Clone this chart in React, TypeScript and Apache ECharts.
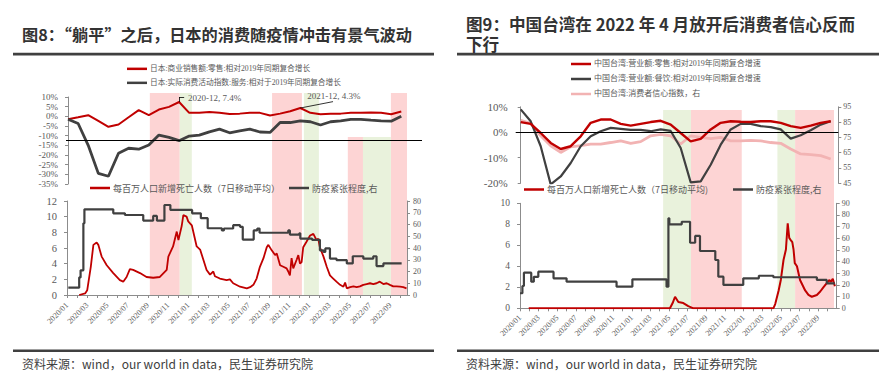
import React, { useEffect, useRef } from 'react';
import * as echarts from 'echarts';

// ---------- tick labels ----------
const xTickLabels = [
  '2020/01', '2020/03', '2020/05', '2020/07', '2020/09', '2020/11',
  '2021/01', '2021/03', '2021/05', '2021/07', '2021/09', '2021/11',
  '2022/01', '2022/03', '2022/05', '2022/07', '2022/09',
];
const twConfTicks = [45, 55, 65, 75, 85, 95];

// ---------- Japan monthly (2020-01 .. 2022-10) ----------
const jpRetail = [
  -1.5, -0.5, 0.6, -2.4, -5.4, -4.2, -0.5, 3.2, 0.6, 3.5, 4.9, 7.4,
  1.8, 1.8, 2.2, 1.9, 1.2, 1.4, 1.8, 1.8, 0.4, 1.4, 2.6, 4.3,
  1.8, 1.1, 1.4, 1.4, 1.8, 1.8, 2.0, 1.8, 1.1, 2.5,
];
const jpService = [
  -1.5, -3.7, -15, -29.5, -31, -19.1, -16.5, -17, -14.8, -9.7, -10.9, -12.6,
  -10.2, -9.7, -8, -6.6, -8.5, -7.5, -6.6, -8.1, -8.3, -3.2, -3.2, -2.3,
  -2.8, -4.5, -2.8, -2.3, -1.6, -1.6, -2.0, -2.3, -2.5, 0.1,
];
const jpRefLine = -12.2;
const jpNotes: [number, number, string][] = [
  [11, 7.4, '2020-12, 7.4%'],
  [23, 4.3, '2021-12, 4.3%'],
];

// ---------- Japan daily ----------
const jpDeaths: [string, number][] = [
  ['2020-02-07', 0], ['2020-02-24', 0.2], ['2020-03-01', 0.6], ['2020-03-12', 3.6], ['2020-03-20', 6.4],
  ['2020-03-30', 6.7], ['2020-04-04', 6.4], ['2020-04-14', 4.9], ['2020-04-29', 3.8], ['2020-05-19', 2.8],
  ['2020-06-08', 1.9], ['2020-06-18', 1.7], ['2020-06-28', 2.3], ['2020-07-08', 3.3], ['2020-07-18', 3.2],
  ['2020-08-08', 2.8], ['2020-08-28', 2.3], ['2020-09-17', 2.2], ['2020-10-07', 2.3], ['2020-10-28', 3.2],
  ['2020-11-02', 4.9], ['2020-11-16', 6.2], ['2020-11-27', 8.1], ['2020-12-02', 7.0], ['2020-12-12', 8.8],
  ['2020-12-17', 10.2], ['2020-12-27', 10.0], ['2021-01-01', 9.4], ['2021-01-12', 8.9], ['2021-01-27', 6.2],
  ['2021-02-06', 5.8], ['2021-02-15', 4.5], ['2021-02-24', 3.2], ['2021-03-06', 2.6], ['2021-03-16', 3.0],
  ['2021-03-21', 2.4], ['2021-04-05', 2.1], ['2021-04-25', 1.9], ['2021-05-05', 2.0], ['2021-05-15', 1.5],
  ['2021-06-05', 1.06], ['2021-06-25', 0.85], ['2021-07-05', 1.0], ['2021-07-15', 1.3], ['2021-07-25', 2.1],
  ['2021-08-04', 3.6], ['2021-08-15', 4.7], ['2021-08-25', 6.1], ['2021-08-30', 6.4], ['2021-09-09', 5.7],
  ['2021-09-19', 5.1], ['2021-09-24', 5.3], ['2021-10-04', 3.8], ['2021-10-14', 3.6], ['2021-10-24', 3.4],
  ['2021-10-29', 3.0], ['2021-11-03', 2.5], ['2021-11-08', 4.7], ['2021-11-13', 3.4], ['2021-11-23', 4.5],
  ['2021-11-28', 5.1], ['2021-12-03', 4.0], ['2021-12-08', 4.2], ['2021-12-13', 6.1], ['2021-12-23', 6.8],
  ['2022-01-03', 7.6], ['2022-01-13', 7.8], ['2022-01-23', 7.0], ['2022-01-28', 7.2], ['2022-02-02', 6.1],
  ['2022-02-12', 4.9], ['2022-02-21', 3.6], ['2022-03-02', 2.5], ['2022-03-12', 2.1], ['2022-03-22', 1.7],
  ['2022-04-02', 1.3], ['2022-04-12', 1.06], ['2022-04-17', 1.6], ['2022-04-22', 0.85], ['2022-05-02', 1.0],
  ['2022-05-12', 1.1], ['2022-05-22', 1.0], ['2022-06-01', 1.1], ['2022-06-11', 1.3], ['2022-06-21', 1.4],
  ['2022-07-01', 1.5], ['2022-07-11', 1.4], ['2022-07-21', 1.5], ['2022-07-31', 1.7], ['2022-08-11', 1.4],
  ['2022-08-21', 1.5], ['2022-08-31', 1.3], ['2022-09-10', 1.1], ['2022-09-20', 1.1], ['2022-09-30', 1.06],
  ['2022-10-10', 1.0], ['2022-10-20', 0.85],
];
const jpStringency: [string, number][] = [
  ['2020-01-05', 6.2], ['2020-02-07', 15], ['2020-02-11', 21], ['2020-02-19', 61], ['2020-02-22', 72.9],
  ['2020-05-19', 69.5], ['2020-06-23', 68.1], ['2020-08-18', 63.3], ['2020-09-17', 67.3], ['2020-09-28', 63.3],
  ['2020-10-21', 76.6], ['2020-11-08', 72.4], ['2021-01-13', 69.5], ['2021-02-08', 65.4], ['2021-02-27', 56.8],
  ['2021-04-11', 55], ['2021-04-17', 56.6], ['2021-05-15', 59.4], ['2021-06-05', 58], ['2021-06-13', 47.2],
  ['2021-07-16', 55], ['2021-07-27', 56.6], ['2021-08-03', 53], ['2021-10-29', 55], ['2021-11-03', 51.4],
  ['2021-12-01', 52.5], ['2021-12-04', 48], ['2022-01-09', 47], ['2022-02-02', 38], ['2022-02-12', 36.7],
  ['2022-02-17', 39.6], ['2022-03-02', 31], ['2022-03-22', 29.7], ['2022-04-22', 26.9], ['2022-05-10', 33],
  ['2022-06-11', 31], ['2022-07-11', 33], ['2022-07-21', 24.6], ['2022-08-11', 26.9], ['2022-10-05', 26.9],
];
// bands: start, end, kind (0 = pink, 1 = green)
const jpBands: [string, string, number][] = [
  ['2020-09-07', '2020-12-06', 0], ['2020-12-06', '2021-01-12', 1],
  ['2021-09-10', '2021-12-09', 0], ['2021-12-15', '2022-01-30', 1],
  ['2022-09-03', '2022-10-24', 0],
];
const jpLowBands: [string, string, number][] = [
  ['2022-04-25', '2022-06-10', 0], ['2022-06-10', '2022-09-03', 1],
];

// ---------- Taiwan monthly (2020-01 .. 2022-08) ----------
const twRetail = [
  4.0, 3.3, -0.3, -4.2, -6.6, -5.5, -1.6, 3.7, 5.0, 5.0, 3.3, 2.6,
  3.3, 4.0, 4.5, 3.0, -0.3, -3.6, -2.6, 1.1, 3.7, 4.3, 4.1, 4.0,
  4.3, 4.3, 3.7, 2.4, 1.7, 2.6, 3.7, 4.3,
];
const twFood = [
  9.0, 4.3, -5.5, -20.5, -17.4, -12.1, -5.5, -1.6, 0.4, 1.7, 1.3, 0.9,
  0.9, 0.4, 1.1, 0.5, -6.2, -19.7, -19.3, -12.8, -4.9, 1.1, 3.3, 3.3,
  2.4, 2.0, 1.1, -2.5, -1.2, 0.8, 3.0, 4.3,
];
const twConfidence = [
  86.2, 84.2, 76, 69.5, 65.1, 68.8, 69.5, 70.6, 70.6, 71.6, 72.7, 71.1,
  72.2, 76, 77, 76, 70.6, 76, 74.9, 74.2, 75, 72.7, 72.7, 73,
  72.7, 71.6, 71.1, 67.3, 64.1, 63.7, 63, 60.8,
];

// ---------- Taiwan daily ----------
const twDeaths: [string, number][] = [
  ['2020-01-30', 0], ['2021-05-04', 0], ['2021-05-13', 0.5], ['2021-05-21', 1.1], ['2021-06-01', 0.6],
  ['2021-06-17', 0.5], ['2021-07-03', 0.2], ['2021-07-20', 0], ['2022-04-07', 0], ['2022-04-13', 0.4],
  ['2022-04-24', 1.7], ['2022-05-01', 2.7], ['2022-05-10', 4.6], ['2022-05-18', 5.6], ['2022-05-24', 8.1],
  ['2022-05-29', 6.7], ['2022-06-03', 6.5], ['2022-06-08', 6.3], ['2022-06-12', 5.6], ['2022-06-16', 4.3],
  ['2022-06-23', 4.0], ['2022-07-03', 2.7], ['2022-07-20', 1.7], ['2022-07-31', 1.27], ['2022-08-11', 1.1],
  ['2022-08-28', 1.27], ['2022-09-08', 1.6], ['2022-09-18', 2.0], ['2022-09-29', 2.4], ['2022-10-08', 2.7],
  ['2022-10-12', 2.5], ['2022-10-19', 2.8], ['2022-10-26', 2.1],
];
const twStringency: [string, number][] = [
  ['2020-01-01', 12.9], ['2020-01-09', 19.1], ['2020-01-14', 30.5], ['2020-02-07', 22.8], ['2020-02-15', 27],
  ['2020-02-29', 31.4], ['2020-04-19', 25.7], ['2020-06-01', 22.8], ['2020-11-12', 18.5], ['2021-01-03', 24.8],
  ['2021-04-23', 18.5], ['2021-04-29', 77.1], ['2021-05-02', 72], ['2021-06-12', 74.2], ['2021-07-09', 56.2],
  ['2021-07-26', 62], ['2021-08-11', 49.1], ['2021-09-30', 41.4], ['2021-10-10', 27.1], ['2021-10-27', 20],
  ['2021-12-31', 25.7], ['2022-02-19', 27.9], ['2022-04-07', 26.6], ['2022-08-28', 24.3], ['2022-09-29', 21.4],
  ['2022-10-26', 21.4],
];
const twBands: [string, string, number][] = [
  ['2021-04-12', '2021-07-12', 1], ['2021-07-12', '2021-12-26', 0],
  ['2022-04-20', '2022-06-17', 1], ['2022-06-17', '2022-10-23', 0],
];

const legendText: Record<string, string> = {
  jpRetail: '日本:商业销售额:零售:相对2019年同期复合增长',
  jpService: '日本:实际消费活动指数:服务:相对于2019年同期复合增长',
  jpDeaths: '每百万人口新增死亡人数（7日移动平均）',
  jpStringency: '防疫紧张程度,右',
  twRetail: '中国台湾:营业额:零售:相对2019年同期复合增速',
  twFood: '中国台湾:营业额:餐饮:相对2019年同期复合增速',
  twConfidence: '中国台湾:消费者信心指数，右',
  twDeaths: '每百万人口新增死亡人数（7日移动平均)',
  twStringency: '防疫紧张程度,右',
};

// ---------- styling ----------
const RED = '#c00000';
const DARK = '#404040';
const PINK_LINE = '#f2b3b3';
const BAND_PINK = '#fdd4d4';
const BAND_GREEN = '#e9f2dc';
const AXIS = '#8c8c8c';
const LABEL = '#595959';
const SERIF = '"Liberation Serif", "Times New Roman", serif';
const SANS = '"Noto Sans CJK SC", "Noto Sans", sans-serif';
const MIX = '"Liberation Serif", "Noto Sans CJK SC", serif';

function toM(s: string): number {
  const [y, m, d] = s.split('-').map(Number);
  const dim = new Date(y, m, 0).getDate();
  return (y - 2020) * 12 + (m - 1) + (d - 1) / dim;
}

const fmtMonth = (v: number) => {
  const r = Math.round(v);
  if (Math.abs(v - r) > 1e-6 || r % 2 !== 0) return '';
  return xTickLabels[r / 2] ?? '';
};

function yAx(gridIndex: number, o: any) {
  return {
    type: 'value',
    gridIndex,
    min: o.min,
    max: o.max,
    interval: o.interval,
    position: o.position || 'left',
    splitLine: { show: false },
    axisLine: { show: true, lineStyle: { color: AXIS, width: 1 } },
    axisTick: { show: true, length: 3, lineStyle: { color: AXIS }, customValues: o.customValues },
    axisLabel: {
      color: LABEL,
      fontFamily: SERIF,
      fontSize: o.fontSize || 10,
      lineHeight: o.lineHeight,
      margin: o.margin ?? 8,
      formatter: o.formatter,
      customValues: o.customValues,
      showMinLabel: true,
      showMaxLabel: true,
      hideOverlap: false,
    },
  };
}

function hiddenAx(gridIndex: number, min: number, max: number) {
  return { type: 'value', gridIndex, min, max, show: false, splitLine: { show: false } };
}

function dateAx(gridIndex: number, max: number, margin: number) {
  return {
    type: 'value',
    gridIndex,
    min: 0,
    max,
    interval: 1,
    splitLine: { show: false },
    axisLine: { show: true, onZero: false, lineStyle: { color: AXIS } },
    axisTick: { show: true, length: 3, inside: false, lineStyle: { color: AXIS } },
    axisLabel: {
      rotate: 45,
      fontSize: 8,
      fontFamily: SERIF,
      color: LABEL,
      margin,
      showMaxLabel: false,
      formatter: fmtMonth,
    },
  };
}

function bandSeries(bands: [string, string, number][], xi: number, yi: number) {
  return {
    type: 'custom',
    xAxisIndex: xi,
    yAxisIndex: yi,
    silent: true,
    z: 0,
    encode: { x: [0, 1] },
    data: bands.map(([a, b, k]) => [toM(a), toM(b), k]),
    renderItem: (params: any, api: any) => {
      const cs = params.coordSys;
      let x0 = api.coord([api.value(0), 0])[0];
      let x1 = api.coord([api.value(1), 0])[0];
      x0 = Math.max(x0, cs.x);
      x1 = Math.min(x1, cs.x + cs.width);
      return {
        type: 'rect',
        shape: { x: x0, y: cs.y, width: Math.max(0, x1 - x0), height: cs.height },
        style: { fill: api.value(2) === 0 ? BAND_PINK : BAND_GREEN },
      };
    },
  };
}

function lineS(name: string, data: any[], xi: number, yi: number, color: string, width: number, extra: any = {}) {
  return {
    type: 'line',
    name,
    xAxisIndex: xi,
    yAxisIndex: yi,
    data,
    showSymbol: false,
    symbol: 'none',
    z: 3,
    lineStyle: { color, width },
    itemStyle: { color },
    ...extra,
  };
}

function legendItem(name: string, left: number, top: number, fontSize: number, fontFamily: string) {
  return {
    data: [name],
    left,
    top,
    orient: 'horizontal',
    icon: 'rect',
    itemWidth: 20,
    itemHeight: 2.5,
    itemGap: 0,
    padding: 0,
    selectedMode: false,
    formatter: (n: string) => legendText[n],
    textStyle: { fontSize, fontFamily, color: LABEL, padding: [0, 0, 0, -2] },
  };
}

function textG(x: number, y: number, text: string, font: string, fill: string, lineHeight?: number) {
  return {
    type: 'text',
    x,
    y,
    silent: true,
    style: {
      text, font, fill, lineHeight,
      textAlign: 'left', textVerticalAlign: 'middle', align: 'left', verticalAlign: 'middle',
    },
  };
}

function rectG(x: number, y: number, w: number, h: number) {
  return { type: 'rect', silent: true, shape: { x, y, width: w, height: h }, style: { fill: DARK } };
}

function buildOption(): any {
  const monthly = (arr: number[]) => arr.map((v, i) => [i, v]);
  const daily = (arr: [string, number][]) => arr.map(([d, v]) => [toM(d), v]);

  return {
    animation: false,
    backgroundColor: '#ffffff',
    grid: [
      { left: 66, top: 97, width: 356, height: 87 }, // 0 JP top
      { left: 67, top: 201, width: 340, height: 94 }, // 1 JP bottom
      { left: 67, top: 93, width: 340, height: 202 }, // 2 JP bands
      { left: 67, top: 137, width: 340, height: 158 }, // 3 JP low bands
      { left: 515.7, top: 106.8, width: 322.6, height: 76.3 }, // 4 TW top
      { left: 520, top: 203.3, width: 316.7, height: 105 }, // 5 TW bottom
      { left: 520, top: 110, width: 316.7, height: 198.3 }, // 6 TW bands
    ],
    xAxis: [
      hiddenAx(0, -0.2, 35.05),
      dateAx(1, 33.66, 9),
      hiddenAx(2, 0, 33.66),
      hiddenAx(3, 0, 33.66),
      hiddenAx(4, -0.5, 31.76),
      dateAx(5, 34.0, 8),
      hiddenAx(6, 0, 34.0),
    ],
    yAxis: [
      yAx(0, { min: -35, max: 10, interval: 5, formatter: '{value}%', fontSize: 9, lineHeight: 9, margin: 8 }),
      yAx(1, { min: 0, max: 12, interval: 2, fontSize: 10.5, margin: 10 }),
      yAx(1, { min: 0, max: 80, interval: 10, position: 'right', fontSize: 8, margin: 6 }),
      hiddenAx(2, 0, 1),
      hiddenAx(3, 0, 1),
      yAx(4, { min: -20, max: 10, interval: 10, formatter: '{value}%', fontSize: 11, margin: 8 }),
      yAx(4, { min: 45, max: 95, customValues: twConfTicks, position: 'right', fontSize: 8, margin: 5 }),
      yAx(5, { min: 0, max: 10, interval: 2, fontSize: 9.5, margin: 10 }),
      yAx(5, { min: 0, max: 90, interval: 10, position: 'right', fontSize: 8, margin: 5 }),
      hiddenAx(6, 0, 1),
    ],
    legend: [
      legendItem('jpRetail', 127, 65, 7.7, MIX),
      legendItem('jpService', 127, 79, 7.7, MIX),
      legendItem('jpDeaths', 90, 183.5, 9, SANS),
      legendItem('jpStringency', 289, 183.5, 9, SANS),
      legendItem('twRetail', 571, 60, 8, MIX),
      legendItem('twFood', 571, 75, 8, MIX),
      legendItem('twConfidence', 571, 90, 8, MIX),
      legendItem('twDeaths', 524, 185, 9, SANS),
      legendItem('twStringency', 733, 185, 9, SANS),
    ],
    graphic: [
      textG(22, 33.5, '图8：“躺平”之后，日本的消费随疫情冲击有景气波动', `bold 16.2px ${SANS}`, '#333333'),
      textG(466, 34, '图9：中国台湾在 2022 年 4 月放开后消费者信心反而\n下行', `bold 16.6px ${SANS}`, '#333333', 19.5),
      rectG(13, 52.8, 421, 2.6),
      rectG(457, 52.8, 422, 2.6),
      rectG(13, 349.5, 421, 2.6),
      rectG(457, 349.5, 422, 2.6),
      textG(22, 363.5, '资料来源：wind，our world in data，民生证券研究院', `12px ${SANS}`, '#404040'),
      textG(466, 363.5, '资料来源：wind，our world in data，民生证券研究院', `12px ${SANS}`, '#404040'),
    ],
    series: [
      bandSeries(jpBands, 2, 3),
      bandSeries(jpLowBands, 3, 4),
      bandSeries(twBands, 6, 9),
      lineS('jpRetail', monthly(jpRetail), 0, 0, RED, 2, {
        markLine: {
          silent: true,
          symbol: ['none', 'none'],
          label: { show: false },
          lineStyle: { color: '#000000', width: 0.8, type: 'solid' },
          data: [
            [{ coord: [jpNotes[0][0], jpNotes[0][1]] }, { coord: [jpNotes[0][0], 10] }],
            [{ coord: [jpNotes[0][0], 10] }, { coord: [jpNotes[0][0] + 0.5, 10] }],
            [{ coord: [jpNotes[1][0], jpNotes[1][1]] }, { coord: [jpNotes[1][0] + 3.24, 7.6] }],
            { yAxis: jpRefLine, lineStyle: { color: '#000000', width: 1 } },
          ],
        },
        markPoint: {
          silent: true,
          symbol: 'circle',
          symbolSize: 0,
          label: {
            show: true,
            position: 'right',
            distance: 0,
            formatter: '{b}',
            color: LABEL,
            fontSize: 9,
            fontFamily: SERIF,
          },
          data: [
            { name: jpNotes[0][2], coord: [jpNotes[0][0], jpNotes[0][1]], label: { offset: [9, -4] } },
            { name: jpNotes[1][2], coord: [jpNotes[1][0], jpNotes[1][1]], label: { offset: [7, -12] } },
          ],
        },
      }),
      lineS('jpService', monthly(jpService), 0, 0, DARK, 2.8),
      lineS('jpDeaths', daily(jpDeaths), 1, 1, RED, 1.8),
      lineS('jpStringency', daily(jpStringency), 1, 2, DARK, 2.2, { step: 'end' }),
      lineS('twConfidence', monthly(twConfidence), 4, 6, PINK_LINE, 2.8),
      lineS('twFood', monthly(twFood), 4, 5, DARK, 2.2),
      lineS('twRetail', monthly(twRetail), 4, 5, RED, 2.4, {
        markLine: {
          silent: true,
          symbol: ['none', 'none'],
          label: { show: false },
          lineStyle: { color: '#000000', width: 1, type: 'solid' },
          data: [{ yAxis: 0 }],
        },
      }),
      lineS('twDeaths', daily(twDeaths), 5, 7, RED, 2),
      lineS('twStringency', daily(twStringency), 5, 8, DARK, 2.2, { step: 'end' }),
    ],
  };
}

export default function App() {
  const ref = useRef<HTMLDivElement>(null);
  useEffect(() => {
    if (!ref.current) return;
    const chart = echarts.init(ref.current, null, { renderer: 'svg' });
    chart.setOption(buildOption());
    return () => chart.dispose();
  }, []);
  return (
    <div
      ref={ref}
      style={{ position: 'fixed', left: 0, top: 0, width: 888, height: 387, background: '#ffffff' }}
    />
  );
}
